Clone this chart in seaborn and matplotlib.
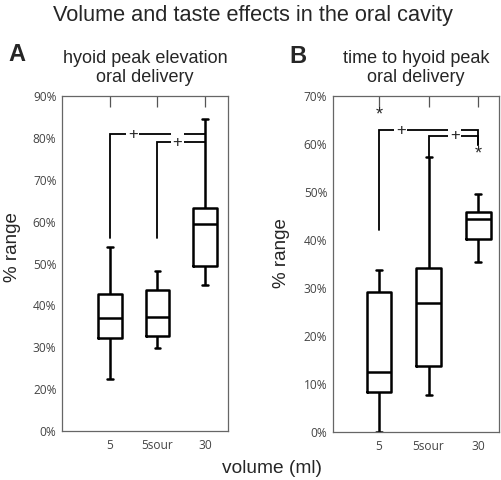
import numpy as np
import pandas as pd
import matplotlib
matplotlib.use('Agg')
import matplotlib.pyplot as plt
import seaborn as sns

# ── Data (five-number summaries) ──────────────────────────────────────────────
volumes = ['5', '5sour', '30']

# panel A: hyoid peak elevation (min, q1, median, q3, max)
elev_5     = [22.4, 32.3, 36.9, 42.7, 54.0]
elev_5sour = [29.9, 32.6, 37.3, 43.7, 48.1]
elev_30    = [44.9, 49.4, 59.5, 63.3, 84.4]

# panel B: time to hyoid peak
time_5     = [0.0, 8.2, 12.5, 29.1, 33.6]
time_5sour = [7.7, 13.6, 26.9, 34.2, 57.3]
time_30    = [35.3, 40.1, 44.4, 45.9, 49.5]

ticks_a  = [10, 20, 30, 40, 50, 60, 70, 80, 90]
labels_a = ['0%', '20%', '30%', '40%', '50%', '60%', '70%', '80%', '90%']
ticks_b  = [0, 10, 20, 30, 40, 50, 60, 70]
labels_b = ['0%', '10%', '20%', '30%', '40%', '50%', '60%', '70%']

# significance brackets: (x_left, y_left_start, y_top, x_right, y_right_end, plus_x)
brackets_a = [(0, 56.1, 80.9, 2, 80.9, 0.48),
              (1, 56.1, 79.0, 2, 79.0, 1.42)]
brackets_b = [(0, 42.1, 62.9, 2, 59.8, 0.44),
              (1, 57.3, 61.7, 2, 59.8, 1.53)]
stars_b = [(0, 66.0), (2, 58.0)]


def long_df(groups):
    rows = []
    for v, vals in zip(volumes, groups):
        rows += [(v, x) for x in vals]
    return pd.DataFrame(rows, columns=['volume', 'pct'])


df_a = long_df([elev_5, elev_5sour, elev_30])
df_b = long_df([time_5, time_5sour, time_30])

# ── Figure ────────────────────────────────────────────────────────────────────
sns.set_style('white')
plt.rcParams['font.family'] = ['Liberation Sans', 'DejaVu Sans']

fig = plt.figure(figsize=(5.02, 4.8), dpi=100)
ax_a = fig.add_axes([0.1235, 0.102, 0.331, 0.698])
ax_b = fig.add_axes([0.663, 0.101, 0.331, 0.699])

tick_font = dict(family=['Open Sans', 'DejaVu Sans'], size=8.6, color='#444444')


def draw_panel(ax, df, ticks, labels, ylim, xlim, brackets, title):
    sns.boxplot(data=df, x='volume', y='pct', order=volumes, whis=(0, 100),
                width=0.5, fill=False, color='black', linecolor='black',
                linewidth=1.8, capwidths=0.12, ax=ax)
    ax.set_ylim(*ylim)
    ax.set_xlim(*xlim)
    ax.set_yticks(ticks)
    ax.set_yticklabels(labels, **tick_font)
    ax.set_xticks(range(len(volumes)))
    ax.set_xticklabels(volumes, **tick_font)
    ax.tick_params(axis='both', direction='in', length=8, width=0.9,
                   color='#555555', top=True, pad=4)
    ax.tick_params(axis='x', pad=6)
    for s in ax.spines.values():
        s.set_color('#666666')
        s.set_linewidth(0.9)
    ax.set_xlabel('')
    ax.set_ylabel('% range', fontsize=13.5, labelpad=4)
    ax.set_title(title, fontsize=13, pad=10, linespacing=1.2)
    for x0, y0, ytop, x1, y1, px in brackets:
        ax.plot([x0, x0, x1, x1], [y0, ytop, ytop, y1], color='black',
                lw=1.3, solid_joinstyle='miter')
        ax.text(px, ytop, '+', ha='center', va='center', fontsize=12,
                bbox=dict(fc='white', ec='none', pad=1.2))


draw_panel(ax_a, df_a, ticks_a, labels_a, (10, 90), (-1.0, 2.48), brackets_a,
           'hyoid peak elevation\noral delivery')
draw_panel(ax_b, df_b, ticks_b, labels_b, (0, 70), (-0.93, 2.42), brackets_b,
           'time to hyoid peak\noral delivery')
for sx, sy in stars_b:
    ax_b.text(sx, sy, '*', ha='center', va='center', fontsize=13)

ax_a.yaxis.set_label_coords(-0.245, 0.55)
ax_b.yaxis.set_label_coords(-0.258, 0.531)

fig.text(0.504, 0.968, 'Volume and taste effects in the oral cavity',
         ha='center', va='center', fontsize=15.7)
fig.text(0.034, 0.887, 'A', ha='center', va='center', fontsize=17, fontweight='bold')
fig.text(0.594, 0.883, 'B', ha='center', va='center', fontsize=17, fontweight='bold')
fig.text(0.542, 0.023, 'volume (ml)', ha='center', va='center', fontsize=13.8)

plt.savefig('out.png', dpi=100)
plt.close()
